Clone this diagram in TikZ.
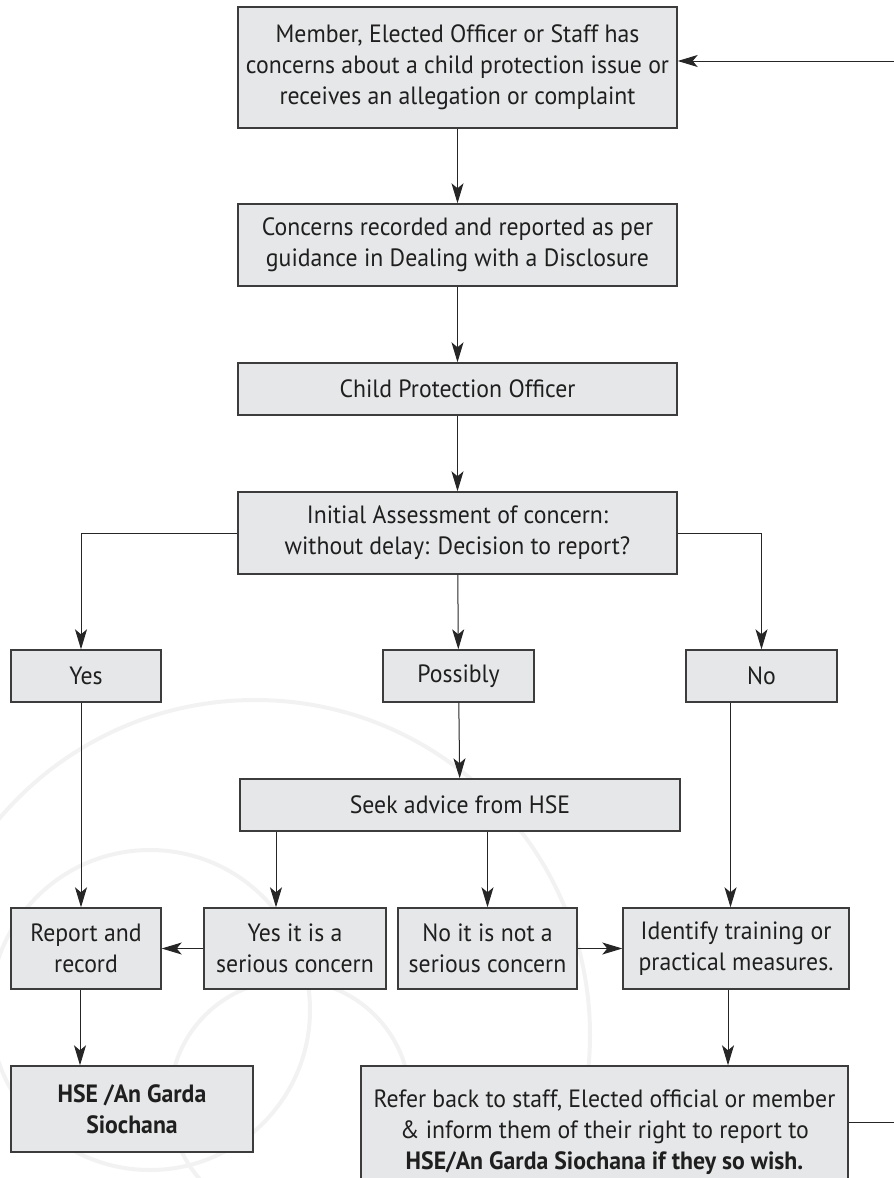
\documentclass[tikz,border=0pt]{standalone}
\usepackage{fontspec}
\setmainfont[FakeStretch=0.95]{PT Sans}
\usetikzlibrary{arrows.meta,positioning}
\definecolor{boxgray}{HTML}{E6E7E8}
\definecolor{edgegray}{HTML}{3C3C3C}
\definecolor{markgray}{HTML}{F2F2F2}
\tikzset{
  flowbox/.style={draw=edgegray, line width=1.4pt, fill=boxgray, align=center,
    inner sep=0pt, text=black!88, font=\fontsize{25}{31}\selectfont},
  arr/.style={-{Stealth[length=20pt,width=12pt,inset=5pt]}, line width=1pt, draw=black!85},
  link/.style={line width=1pt, draw=black!85},
}
\begin{document}
\begin{tikzpicture}[x=1pt,y=-1pt]
                    \useasboundingbox (0,0) rectangle (894,1178);

                    % watermark
                    \draw[markgray, line width=4pt] (255,1035) circle[radius=335pt];
                    \draw[markgray, line width=4pt] (150,1010) circle[radius=160pt];
                    \draw[markgray, line width=4pt] (290,1100) circle[radius=120pt];

                    % boxes
                    \node[flowbox, minimum width=439, minimum height=121] (member) at (457.5,67.5)
                        {Member, Elected Officer or Staff has\\concerns about a child protection issue or\\receives an allegation or complaint};
                    \node[flowbox, minimum width=439, minimum height=82] (recorded) at (457.5,245)
                        {Concerns recorded and reported as per\\guidance in Dealing with a Disclosure};
                    \node[flowbox, minimum width=439, minimum height=52] (cpo) at (457.5,389)
                        {Child Protection Officer};
                    \node[flowbox, minimum width=439, minimum height=82] (assess) at (457.5,533)
                        {Initial Assessment of concern:\\without delay: Decision to report?};
                    \node[flowbox, minimum width=150, minimum height=52] (yes) at (86,676) {Yes};
                    \node[flowbox, minimum width=151, minimum height=52] (possibly) at (458.5,676) {Possibly};
                    \node[flowbox, minimum width=151, minimum height=52] (no) at (761.5,676) {No};
                    \node[flowbox, minimum width=440, minimum height=52] (seek) at (460,805) {Seek advice from HSE};
                    \node[flowbox, minimum width=150, minimum height=81] (report) at (86,948.5) {Report and\\record};
                    \node[flowbox, minimum width=182, minimum height=81] (serious) at (295,948.5) {Yes it is a\\serious concern};
                    \node[flowbox, minimum width=179, minimum height=81] (notserious) at (487.5,948.5) {No it is not a\\serious concern};
                    \node[flowbox, minimum width=226, minimum height=81] (identify) at (736,948.5) {Identify training or\\practical measures.};
                    \node[flowbox, minimum width=242, minimum height=86] (garda) at (132,1109)
                        {\textbf{HSE /An Garda}\\\textbf{Siochana}};
                    \node[flowbox, minimum width=487, minimum height=132] (referback) at (604.5,1132)
                        {Refer back to staff, Elected official or member\\\& inform them of their right to report to\\\textbf{HSE/An Garda Siochana if they so wish.}};

                    % main line
                    \draw[arr] (member) -- (recorded);
                    \draw[arr] (recorded) -- (cpo);
                    \draw[arr] (cpo) -- (assess);

                    % decision
                    \draw[arr] (assess.west) -| ([xshift=-5]yes.north);
                    \draw[arr] (assess) -- (possibly);
                    \draw[arr] (assess.east) -| (no.north);
                    \draw[arr] (possibly) -- (seek);
                    \draw[arr] ([xshift=-5]yes.south) -- ([xshift=-5]report.north);
                    \draw[arr] ([xshift=-19]serious.north |- seek.south) -- ([xshift=-19]serious.north);
                    \draw[arr] (notserious.north |- seek.south) -- (notserious.north);
                    \draw[arr] ([xshift=-31]no.south) -- ([xshift=-31]no.south |- identify.north);
                    \draw[arr] (serious) -- (report);
                    \draw[arr] (notserious) -- (identify);
                    \draw[arr] ([xshift=-6]report.south) -- ([xshift=-6]report.south |- garda.north);
                    \draw[arr] ([xshift=-8]identify.south) -- ([xshift=-8]identify.south |- referback.north);

                    % back to the start
                    \coordinate (edge) at (898,0);
                    \draw[arr] ([yshift=10]referback.east) -- ([yshift=10]referback.east -| edge)
                        -- ([yshift=6.5]member.east -| edge) -- ([yshift=6.5]member.east);

\end{tikzpicture}
\end{document}
